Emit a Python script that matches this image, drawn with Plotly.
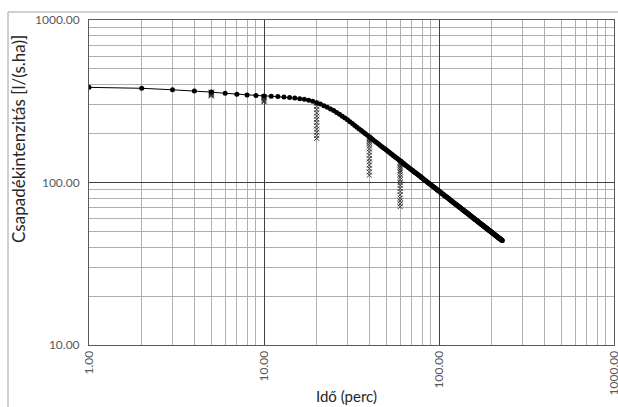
import plotly.graph_objects as go

# Duration (min) and design intensity curve
time_min = list(range(1, 231))
intensity = [
    385, 380, 372, 366, 360, 354, 349, 346, 343, 341,
    340, 338, 336, 334, 331, 328, 325, 321, 316, 310,
    304, 297, 290, 283, 277, 270, 263, 256, 249, 243.2,
    236.6, 230.4, 224.5, 218.9, 213.6, 208.6, 203.9, 199.4, 195.1, 191.0,
    187.1, 183.3, 179.7, 176.3, 173.0, 169.8, 166.8, 163.9, 161.1, 158.4,
    155.8, 153.3, 150.9, 148.5, 146.3, 144.1, 142.0, 139.9, 137.9, 136.0,
    134.0, 132.2, 130.4, 128.7, 127.0, 125.4, 123.8, 122.3, 120.8, 119.3,
    118.0, 116.6, 115.3, 114.0, 112.7, 111.5, 110.3, 109.1, 107.9, 106.8,
    105.6, 104.5, 103.4, 102.4, 101.4, 100.4, 99.4, 98.5, 97.6, 96.7,
    95.8, 94.9, 94.0, 93.2, 92.4, 91.6, 90.8, 90.0, 89.2, 88.5,
    87.8, 87.0, 86.3, 85.6, 84.9, 84.3, 83.6, 83.0, 82.3, 81.7,
    81.1, 80.5, 79.9, 79.3, 78.7, 78.1, 77.6, 77.0, 76.5, 75.9,
    75.4, 74.9, 74.3, 73.8, 73.3, 72.9, 72.4, 71.9, 71.4, 71.0,
    70.5, 70.1, 69.6, 69.2, 68.8, 68.4, 67.9, 67.5, 67.1, 66.7,
    66.3, 65.9, 65.5, 65.1, 64.8, 64.4, 64.0, 63.7, 63.3, 62.9,
    62.6, 62.2, 61.9, 61.5, 61.2, 60.9, 60.5, 60.2, 59.9, 59.6,
    59.3, 59.0, 58.7, 58.4, 58.1, 57.8, 57.5, 57.2, 56.9, 56.6,
    56.3, 56.1, 55.8, 55.5, 55.3, 55.0, 54.8, 54.5, 54.3, 54.0,
    53.8, 53.5, 53.3, 53.0, 52.8, 52.5, 52.3, 52.1, 51.8, 51.6,
    51.4, 51.2, 50.9, 50.7, 50.5, 50.3, 50.1, 49.8, 49.6, 49.4,
    49.2, 49.0, 48.8, 48.6, 48.4, 48.2, 48.0, 47.8, 47.6, 47.4,
    47.2, 47.0, 46.9, 46.7, 46.5, 46.3, 46.1, 45.9, 45.8, 45.6,
    45.4, 45.3, 45.1, 44.9, 44.8, 44.6, 44.4, 44.2, 44.1, 43.9,
]

# Observed values (x markers) per duration
obs_durations = [5, 10, 20, 40, 60]
obs_5 = [360, 356, 352, 348, 344, 341]
obs_10 = [338, 333, 328, 323, 318, 314]
obs_20 = [308, 294, 281, 268, 256, 245, 234, 223, 213, 204, 195, 187]
obs_40 = [190, 186, 182, 178, 174, 168, 161, 154, 147, 140, 134, 128, 122, 116, 111]
obs_60 = [134, 131, 128, 125, 122, 119, 116, 112, 108, 104, 100, 96, 92, 88, 84, 80, 77, 74, 71]
obs_lists = [obs_5, obs_10, obs_20, obs_40, obs_60]

obs_x, obs_y = [], []
for d, vals in zip(obs_durations, obs_lists):
    obs_x += [d] * len(vals)
    obs_y += vals

x_tick_vals = [1, 10, 100, 1000]
x_tick_text = ["1.00", "10.00", "100.00", "1000.00"]
y_tick_vals = [10, 100, 1000]
y_tick_text = ["10.00", "100.00", "1000.00"]

FONT = "Lato"
fig = go.Figure()
fig.add_trace(go.Scatter(
    x=obs_x, y=obs_y, mode="markers",
    marker=dict(symbol="x-thin", size=5, line=dict(color="#333", width=1), color="#333"),
    showlegend=False,
))
fig.add_trace(go.Scatter(
    x=time_min, y=intensity, mode="lines+markers",
    line=dict(color="black", width=1),
    marker=dict(symbol="circle", size=5, color="black"),
    showlegend=False,
))

grid_minor = "#b0b0b0"
fig.update_xaxes(
    type="log", range=[0, 3], automargin=False,
    tickvals=x_tick_vals, ticktext=x_tick_text, tickangle=-90,
    tickfont=dict(family=FONT, size=12, color="#595959"),
    ticklabeloverflow="allow",
    showgrid=True, gridcolor="#404040", gridwidth=1,
    minor=dict(dtick="D1", showgrid=True, gridcolor=grid_minor, gridwidth=1, ticklen=0),
    showline=True, linecolor="#595959", linewidth=1, mirror=True,
    ticks="", zeroline=False,
)
fig.update_yaxes(
    type="log", range=[1, 3], automargin=False,
    tickvals=y_tick_vals, ticktext=y_tick_text,
    tickfont=dict(family=FONT, size=12, color="#595959"),
    showgrid=True, gridcolor="#404040", gridwidth=1,
    minor=dict(dtick="D1", showgrid=True, gridcolor=grid_minor, gridwidth=1, ticklen=0),
    showline=True, linecolor="#595959", linewidth=1, mirror=True,
    ticks="", zeroline=False, ticklabelstandoff=6,
)

L, R, T, B = 89, 4, 20, 62
W, H = 618, 407
pw, ph = W - L - R, H - T - B

def px_to_paper_x(px):
    return (px - L) / pw

def px_to_paper_y(py):
    return (H - B - py) / ph

# outer chart-area border (left and top)
fig.add_shape(type="line", xref="paper", yref="paper",
              x0=px_to_paper_x(8), x1=px_to_paper_x(8),
              y0=px_to_paper_y(420), y1=px_to_paper_y(12),
              line=dict(color="#bfbfbf", width=1.5))
fig.add_shape(type="line", xref="paper", yref="paper",
              x0=px_to_paper_x(8), x1=px_to_paper_x(630),
              y0=px_to_paper_y(12), y1=px_to_paper_y(12),
              line=dict(color="#bfbfbf", width=1.5))

fig.add_annotation(text="Csapadékintenzitás [l/(s.ha)]", xref="paper", yref="paper",
                   x=px_to_paper_x(18), y=px_to_paper_y(139), textangle=-90,
                   showarrow=False, xanchor="center", yanchor="middle",
                   font=dict(family=FONT, size=17, color="#262626"))
fig.add_annotation(text="Idő (perc)", xref="paper", yref="paper",
                   x=px_to_paper_x(346), y=px_to_paper_y(396),
                   showarrow=False, xanchor="center", yanchor="middle",
                   font=dict(family=FONT, size=15, color="#262626"))

fig.update_layout(
    width=W, height=H,
    margin=dict(l=L, r=R, t=T, b=B, autoexpand=False),
    paper_bgcolor="white", plot_bgcolor="white",
    showlegend=False,
)
fig.write_html("out.html")
